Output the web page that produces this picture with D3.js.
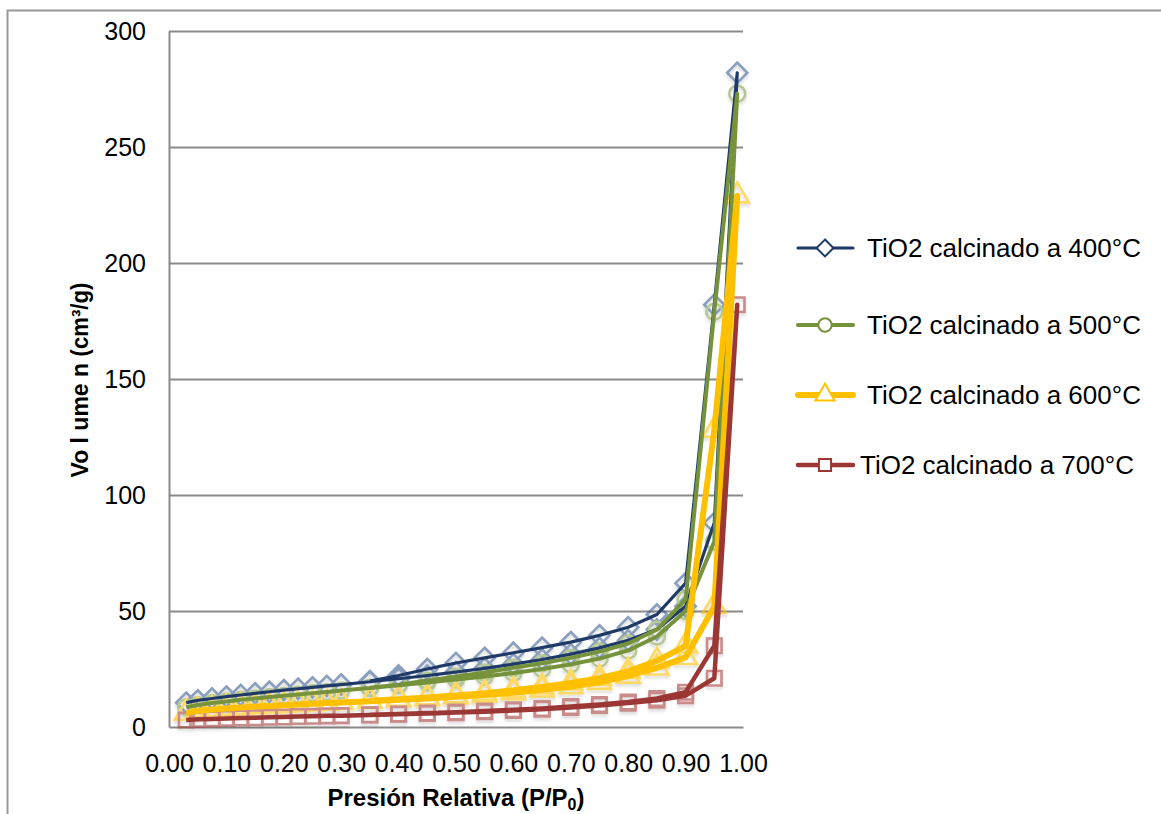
<!DOCTYPE html>
<html>
<head>
<meta charset="utf-8">
<script src="https://cdn.jsdelivr.net/npm/d3@7"></script>
<style>
  html, body { margin: 0; padding: 0; background: #fff; }
  svg { display: block; font-family: "Liberation Sans", Arial, sans-serif; }
</style>
</head>
<body>
<svg id="chart" width="1161" height="814"></svg>
<script>
// ---------------- DATA ----------------
// Relative pressure: adsorption branch (up to 0.99) then desorption branch (back down)
const pressure = [0.03, 0.05, 0.075, 0.10, 0.125, 0.15, 0.175, 0.20, 0.225, 0.25, 0.275, 0.30,
                  0.35, 0.40, 0.45, 0.50, 0.55, 0.60, 0.65, 0.70, 0.75, 0.80, 0.85, 0.90, 0.95, 0.99,
                  0.95, 0.90, 0.85, 0.80, 0.75, 0.70, 0.65, 0.60, 0.55, 0.50, 0.45, 0.40, 0.35];

const seriesNames = ["TiO2 calcinado a 400°C", "TiO2 calcinado a 500°C", "TiO2 calcinado a 600°C", "TiO2 calcinado a 700°C"];

const vol400 = [10.5, 11.5, 12.3, 13.1, 13.8, 14.5, 15.2, 15.9, 16.5, 17.1, 17.7, 18.3,
                19.5, 20.8, 22.2, 23.7, 25.3, 27.1, 29.1, 31.4, 34.1, 37.4, 42.0, 52.0, 88.0, 282.0,
                182.0, 62.0, 48.5, 43.0, 39.5, 36.6, 34.2, 32.0, 29.8, 27.6, 25.0, 22.2, 19.8];
const vol500 = [8.5, 9.5, 10.3, 11.0, 11.7, 12.3, 12.9, 13.5, 14.0, 14.6, 15.1, 15.7,
                16.8, 18.0, 19.2, 20.5, 21.8, 23.3, 25.0, 27.0, 29.5, 33.0, 39.0, 50.0, 80.0, 273.0,
                179.0, 55.0, 42.0, 36.0, 32.5, 29.8, 27.5, 25.5, 23.5, 21.8, 20.0, 18.2, 16.9];
const vol600 = [6.0, 7.0, 7.5, 8.0, 8.4, 8.8, 9.1, 9.4, 9.7, 10.0, 10.3, 10.6,
                11.1, 11.7, 12.3, 13.0, 13.8, 14.8, 16.0, 17.4, 19.3, 22.0, 25.5, 30.0, 52.0, 229.0,
                128.0, 35.0, 28.5, 24.0, 21.0, 19.0, 17.3, 15.8, 14.6, 13.6, 12.7, 12.0, 11.3];
const vol700 = [3.0, 3.3, 3.5, 3.7, 3.9, 4.0, 4.2, 4.3, 4.5, 4.6, 4.8, 4.9,
                5.2, 5.5, 5.8, 6.2, 6.6, 7.1, 7.7, 8.4, 9.3, 10.3, 11.5, 13.5, 21.0, 182.0,
                35.0, 15.0, 12.3, 10.8, 9.7, 8.8, 8.0, 7.4, 6.9, 6.4, 6.0, 5.6, 5.3];

const xTicks = [0, 0.1, 0.2, 0.3, 0.4, 0.5, 0.6, 0.7, 0.8, 0.9, 1.0];
const yTicks = [0, 50, 100, 150, 200, 250, 300];

// ---------------- STYLE / LAYOUT ----------------
const seriesValues = [vol400, vol500, vol600, vol700];
const lineColors   = ["#1F3A68", "#76933C", "#FFC000", "#9B3835"];
const markColors   = ["#3E5F92", "#86A44E", "#FFC000", "#A5403D"];
const lineWidths   = [3.2, 4, 6, 4.5];
const symbols      = [d3.symbolDiamond2, d3.symbolCircle, d3.symbolTriangle, d3.symbolSquare];
const symSizes     = [260, 200, 230, 210];
const legendY      = [248, 325, 395, 465];
const legendTextX  = [867, 867, 867, 860];

const svg = d3.select("#chart");
const margin = {left: 169, right: 743, top: 31, bottom: 727};
const x = d3.scaleLinear().domain([0, 1]).range([margin.left, margin.right]);
const y = d3.scaleLinear().domain([0, 300]).range([margin.bottom, margin.top]);

// filters
const defs = svg.append("defs");
const f = defs.append("filter").attr("id", "soft").attr("x", "-50%").attr("y", "-50%").attr("width", "200%").attr("height", "200%");
f.append("feDropShadow").attr("dx", 0).attr("dy", 2.5).attr("stdDeviation", 1.6)
  .attr("flood-color", "#000").attr("flood-opacity", 0.25);
f.append("feGaussianBlur").attr("stdDeviation", 0.5);

// outer chart border
svg.append("rect").attr("x", 7.5).attr("y", 10.5).attr("width", 1170).attr("height", 830)
  .attr("fill", "#fff").attr("stroke", "#999").attr("stroke-width", 2);

// gridlines
svg.append("g").attr("transform", `translate(${margin.left},0)`)
  .call(d3.axisLeft(y).tickValues(yTicks.filter(d => d > 0)).tickSize(-(margin.right - margin.left)).tickFormat(""))
  .call(g => g.select(".domain").remove())
  .call(g => g.selectAll("line").attr("stroke", "#8a8a8a").attr("stroke-width", 2));

// y axis
svg.append("g").attr("transform", `translate(${margin.left},0)`)
  .call(d3.axisLeft(y).tickValues(yTicks).tickSize(0).tickPadding(23).tickFormat(d3.format("d")))
  .call(g => g.select(".domain").attr("stroke", "#8a8a8a").attr("stroke-width", 2))
  .call(g => g.selectAll("text").attr("font-size", 25).attr("fill", "#000")
      .attr("font-family", "'Liberation Sans', Arial, sans-serif"));

// x axis
svg.append("g").attr("transform", `translate(0,${margin.bottom})`)
  .call(d3.axisBottom(x).tickValues(xTicks).tickSize(0).tickPadding(27).tickFormat(d3.format(".2f")))
  .call(g => g.select(".domain").attr("stroke", "#8a8a8a").attr("stroke-width", 2))
  .call(g => g.selectAll("text").attr("font-size", 25).attr("fill", "#000")
      .attr("font-family", "'Liberation Sans', Arial, sans-serif"));

// axis titles
const xt = svg.append("text").attr("x", 456).attr("y", 806).attr("text-anchor", "middle")
  .attr("font-size", 24).attr("font-weight", "bold").attr("fill", "#000");
xt.append("tspan").text("Presión Relativa (P/P");
xt.append("tspan").attr("font-size", 16).attr("dy", 4).text("0");
xt.append("tspan").attr("dy", -4).text(")");

const yt = svg.append("text").attr("transform", "translate(88,380) rotate(-90)")
  .attr("text-anchor", "middle").attr("font-size", 23).attr("font-weight", "bold").attr("fill", "#000");
yt.append("tspan").text("Vo l ume n  ");
yt.append("tspan").attr("textLength", 74).attr("lengthAdjust", "spacingAndGlyphs").text("(cm³/g)");

// series data
const series = seriesValues.map((vals, i) => ({
  name: seriesNames[i],
  points: pressure.map((p, j) => ({p, v: vals[j]}))
}));

const line = d3.line().x(d => x(d.p)).y(d => y(d.v));

// markers (faded, behind lines)
const mk = svg.append("g").attr("filter", "url(#soft)").attr("opacity", 0.6);
series.forEach((s, i) => {
  mk.append("g").selectAll("path").data(s.points).join("path")
    .attr("transform", d => `translate(${x(d.p)},${y(d.v)})`)
    .attr("d", d3.symbol(symbols[i], symSizes[i]))
    .attr("fill", "none").attr("stroke", markColors[i]).attr("stroke-width", 2.6);
});

// lines
series.forEach((s, i) => {
  svg.append("path").datum(s.points).attr("d", line)
    .attr("fill", "none").attr("stroke", lineColors[i]).attr("stroke-width", lineWidths[i])
    .attr("stroke-linejoin", "round");
});

// legend
const lg = svg.append("g");
series.forEach((s, i) => {
  const g = lg.append("g").attr("transform", `translate(0,${legendY[i]})`);
  g.append("line").attr("x1", 798).attr("x2", 853).attr("y1", 0).attr("y2", 0)
    .attr("stroke", lineColors[i]).attr("stroke-width", lineWidths[i]).attr("stroke-linecap", "round");
  g.append("path").attr("transform", "translate(825,0)")
    .attr("d", d3.symbol(symbols[i], symSizes[i] * 0.7))
    .attr("fill", "#fff").attr("stroke", lineColors[i]).attr("stroke-width", 2);
  g.append("text").attr("x", legendTextX[i]).attr("y", 9).attr("font-size", 26).attr("fill", "#000")
    .text(s.name);
});
</script>
</body>
</html>
